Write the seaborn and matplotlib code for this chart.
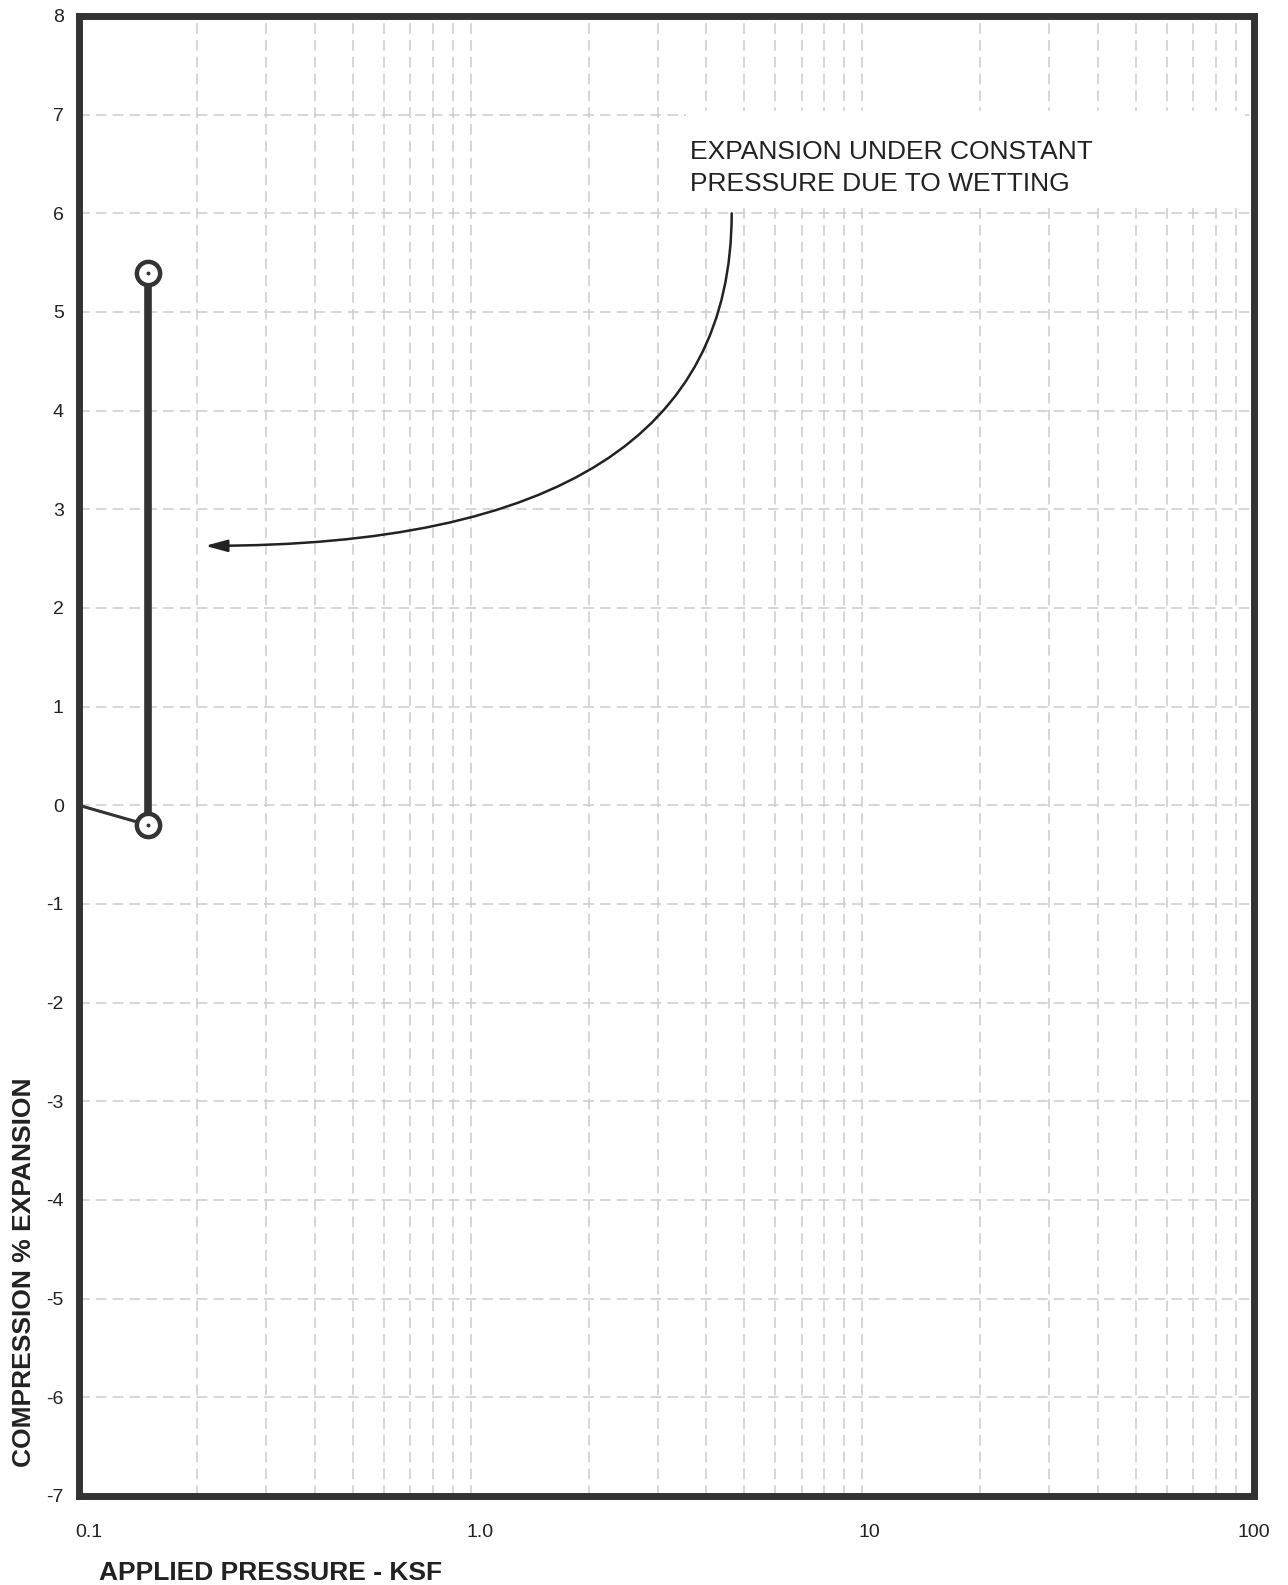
import numpy as np
import pandas as pd
import matplotlib
matplotlib.use("Agg")
import matplotlib.pyplot as plt
import matplotlib.transforms as mtransforms
from matplotlib.patches import Rectangle
import seaborn as sns

# ---- data ----
pressure_thin = [0.1, 0.15]          # initial seating load
strain_thin = [0.0, -0.2]
pressure_wet = [0.15, 0.15]          # expansion on wetting at constant pressure
strain_wet = [-0.2, 5.4]
point_pressure = [0.15, 0.15]
point_strain = [-0.2, 5.4]
x_ticks = [0.1, 1.0, 10, 100]
x_ticklabels = ["0.1", "1.0", "10", "100"]
y_ticks = list(range(-7, 9))
annotation_text = "EXPANSION UNDER CONSTANT\nPRESSURE DUE TO WETTING"

sns.set_theme(style="white")
plt.rcParams['font.family'] = ['Liberation Sans', 'DejaVu Sans']
plt.rcParams['axes.unicode_minus'] = False

dark = "#333333"
grid_c = "#cccccc"

fig = plt.figure(figsize=(12.88, 15.85), dpi=100)
ax = fig.add_axes([79/1288, 1 - 1496/1585, (1254-79)/1288, (1496-16)/1585])

ax.set_xscale("log")
ax.set_xlim(0.1, 100)
ax.set_ylim(-7, 8)

# grid
for dec in [0.1, 1, 10]:
    for m in range(1, 10):
        v = dec * m
        if 0.1 < v < 100:
            ax.axvline(v, color=grid_c, lw=1.1, ls=(0, (7, 4)), zorder=0)
for yv in y_ticks:
    if -7 < yv < 8:
        ax.axhline(yv, color=grid_c, lw=1.1, ls=(0, (7, 4)), zorder=0)

# white label area behind annotation text
ax.add_patch(Rectangle((0.517, 0.874), 0.475, 0.062, transform=ax.transAxes,
                       facecolor="white", edgecolor="none", zorder=1))

df_thin = pd.DataFrame({"p": pressure_thin, "s": strain_thin})
df_wet = pd.DataFrame({"p": pressure_wet, "s": strain_wet})
df_pts = pd.DataFrame({"p": point_pressure, "s": point_strain})

sns.lineplot(data=df_thin, x="p", y="s", ax=ax, color=dark, lw=2.2,
             sort=False, estimator=None, zorder=3, clip_on=False)
sns.lineplot(data=df_wet, x="p", y="s", ax=ax, color=dark, lw=5.5,
             sort=False, estimator=None, zorder=3)
sns.scatterplot(data=df_pts, x="p", y="s", ax=ax, s=280, marker="o",
                facecolor="white", edgecolor=dark, linewidth=3.2, zorder=4)
sns.scatterplot(data=df_pts, x="p", y="s", ax=ax, s=8, marker="o",
                color=dark, linewidth=0, zorder=5)

# annotation
ax.text(3.63, 6.46, annotation_text, fontsize=19, color="#222222",
        ha="left", va="center", linespacing=1.38, zorder=2)
ax.annotate("", xy=(0.21, 2.63), xytext=(4.64, 6.0),
            arrowprops=dict(arrowstyle="-|>,head_length=1.1,head_width=0.3",
                            connectionstyle="angle3,angleA=90,angleB=0",
                            color="#222222", lw=1.8, shrinkA=0, shrinkB=0),
            zorder=3)

# axes styling
for sp in ax.spines.values():
    sp.set_visible(True)
    sp.set_color(dark)
    sp.set_linewidth(5)

ax.set_xticks(x_ticks)
ax.set_xticklabels(x_ticklabels)
ax.xaxis.set_minor_locator(matplotlib.ticker.NullLocator())
ax.set_yticks(y_ticks)
ax.set_yticklabels([str(v) for v in y_ticks])
ax.tick_params(axis="x", length=0, pad=20, labelsize=14, labelcolor="#222222")
ax.tick_params(axis="y", length=0, pad=11, labelsize=14, labelcolor="#222222")

xlabels = ax.get_xticklabels()
for i, lab in enumerate(xlabels):
    if i < len(xlabels) - 1:
        lab.set_horizontalalignment("left")
        lab.set_transform(lab.get_transform() +
                          mtransforms.ScaledTranslation(-4/100, 0, fig.dpi_scale_trans))

ax.set_xlabel("")
ax.set_ylabel("COMPRESSION % EXPANSION", fontsize=19, fontweight="bold",
              color="#222222")
ax.yaxis.set_label_coords(-0.037, 0.151)
fig.text(99/1288, 1 - 1573/1585, "APPLIED PRESSURE - KSF", fontsize=19,
         fontweight="bold", color="#222222", ha="left", va="center")

fig.savefig("out.png", dpi=100)
